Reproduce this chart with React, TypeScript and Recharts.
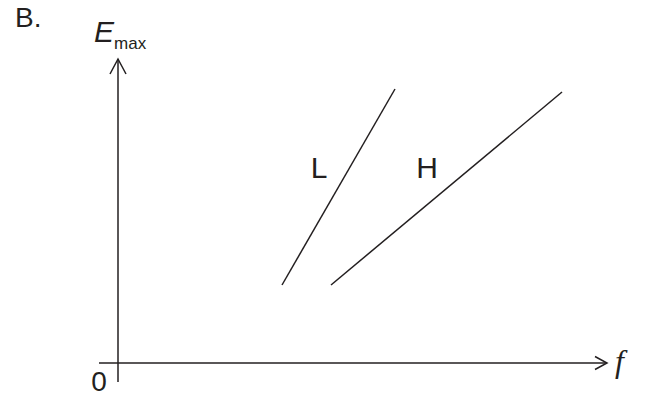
import React from 'react';
import { LineChart, Line, XAxis, YAxis, ReferenceLine, ReferenceDot } from 'recharts';

// units: f and E_max, origin at the axes crossing
const lineL = [
  { f: 16.4, e: 7.8 },
  { f: 27.7, e: 27.4 },
];
const lineH = [
  { f: 21.3, e: 7.8 },
  { f: 44.4, e: 27.1 },
];
const fDomain = [-1.9, 48.9];
const eDomain = [-1.9, 30.4];
const seriesLabels = [
  { name: 'L', f: 20.1, e: 19.6 },
  { name: 'H', f: 30.9, e: 19.6 },
];

const INK = '#231f20';
const SANS = '"Liberation Sans", Arial, sans-serif';
const SERIF = '"Liberation Serif", "Times New Roman", "DejaVu Serif", serif';

const arrowShape = (len: number, half: number) => (props: any) => {
  const { x1, y1, x2, y2 } = props;
  const ang = Math.atan2(y2 - y1, x2 - x1);
  const bx = x2 - len * Math.cos(ang);
  const by = y2 - len * Math.sin(ang);
  const px = -Math.sin(ang) * half;
  const py = Math.cos(ang) * half;
  return (
    <g>
      <line x1={x1} y1={y1} x2={x2} y2={y2} stroke={INK} strokeWidth={1.5} />
      <polyline
        points={`${bx + px},${by + py} ${x2},${y2} ${bx - px},${by - py}`}
        fill="none"
        stroke={INK}
        strokeWidth={1.5}
      />
    </g>
  );
};

const textAt = (render: (x: number, y: number) => React.ReactElement) => (props: any) => {
  const vb = props.viewBox || {};
  const x = (vb.x ?? 0) + (vb.width ?? 0) / 2;
  const y = (vb.y ?? 0) + (vb.height ?? 0) / 2;
  return render(x, y);
};

export default function App() {
  return (
    <div style={{ position: 'fixed', left: 0, top: 0, width: 648, height: 398, background: '#fff' }}>
      <div
        style={{
          position: 'absolute',
          left: 15,
          top: 4,
          fontFamily: SANS,
          fontSize: 28,
          lineHeight: 1,
          color: INK,
        }}
      >
        B.
      </div>
      <LineChart width={648} height={398} margin={{ top: 59, right: 41, bottom: 16, left: 99 }}>
        <XAxis dataKey="f" type="number" domain={fDomain} hide allowDataOverflow />
        <YAxis dataKey="e" type="number" domain={eDomain} hide allowDataOverflow />
        <ReferenceLine
          segment={[{ x: 0, y: eDomain[0] }, { x: 0, y: eDomain[1] }]}
          ifOverflow="visible"
          shape={arrowShape(15, 8)}
        />
        <ReferenceLine
          segment={[{ x: fDomain[0], y: 0 }, { x: fDomain[1], y: 0 }]}
          ifOverflow="visible"
          shape={arrowShape(12, 6.5)}
        />
        <Line data={lineL} dataKey="e" type="linear" stroke={INK} strokeWidth={1.5} dot={false} isAnimationActive={false} />
        <Line data={lineH} dataKey="e" type="linear" stroke={INK} strokeWidth={1.5} dot={false} isAnimationActive={false} />
        {seriesLabels.map((s) => (
          <ReferenceDot
            key={s.name}
            x={s.f}
            y={s.e}
            r={0}
            fill="none"
            stroke="none"
            ifOverflow="visible"
            label={textAt((x, y) => (
              <text x={x} y={y + 10.7} textAnchor="middle" style={{ fontFamily: SANS, fontSize: 30 }} fill={INK}>
                {s.name}
              </text>
            ))}
          />
        ))}
        <ReferenceDot
          x={0}
          y={0}
          r={0}
          fill="none"
          stroke="none"
          ifOverflow="visible"
          label={textAt((x, y) => (
            <text x={x - 19} y={y + 28} textAnchor="middle" style={{ fontFamily: SANS, fontSize: 28 }} fill={INK}>
              0
            </text>
          ))}
        />
        <ReferenceDot
          x={fDomain[1]}
          y={0}
          r={0}
          fill="none"
          stroke="none"
          ifOverflow="visible"
          label={textAt((x, y) => (
            <text x={x + 8} y={y + 8.5} style={{ fontFamily: SERIF, fontStyle: 'italic', fontSize: 32 }} fill={INK}>
              f
            </text>
          ))}
        />
        <ReferenceDot
          x={0}
          y={eDomain[1]}
          r={0}
          fill="none"
          stroke="none"
          ifOverflow="visible"
          label={textAt((x, y) => (
            <text x={x - 24} y={y - 17} style={{ fontFamily: SANS }} fill={INK}>
              <tspan style={{ fontSize: 30, fontStyle: 'italic' }}>E</tspan>
              <tspan style={{ fontSize: 17 }} dy={7}>max</tspan>
            </text>
          ))}
        />
      </LineChart>
    </div>
  );
}
